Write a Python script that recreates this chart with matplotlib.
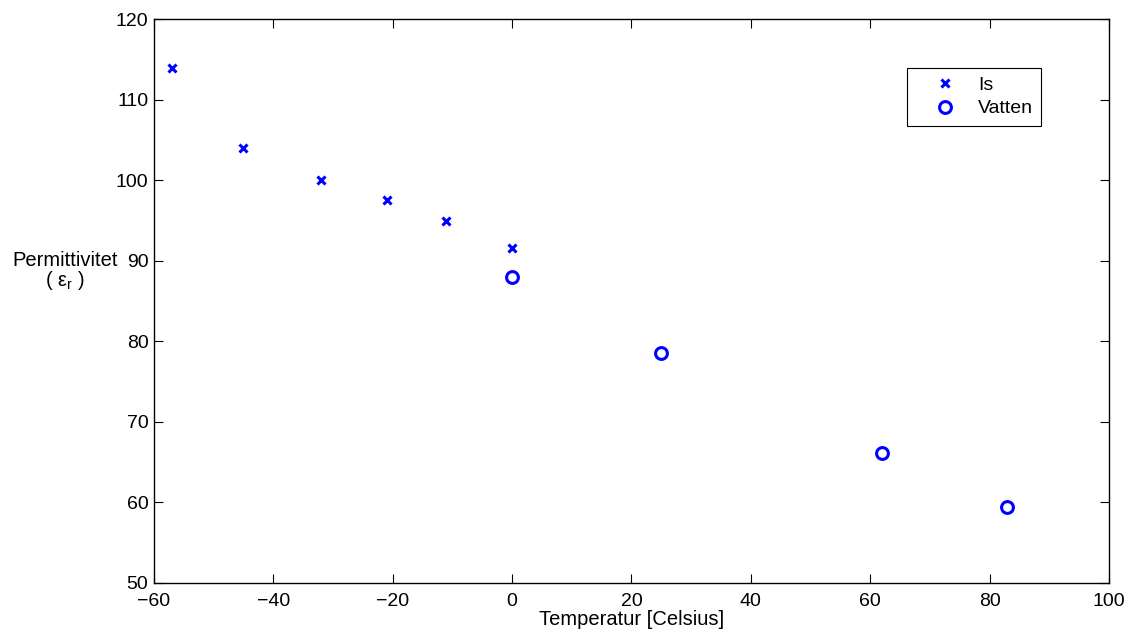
import matplotlib.pyplot as plt

plt.rcParams['font.family'] = ['Liberation Sans', 'DejaVu Sans']
plt.rcParams['mathtext.fontset'] = 'custom'
plt.rcParams['mathtext.rm'] = 'Liberation Sans'
plt.rcParams['mathtext.it'] = 'Liberation Sans'

# Permittivity of ice and water vs temperature
is_temp = [-57, -45, -32, -21, -11, 0]
is_eps = [114, 104, 100, 97.5, 95, 91.6]

vatten_temp = [0, 25, 62, 83]
vatten_eps = [88, 78.6, 66.1, 59.4]

x_ticks = [-60, -40, -20, 0, 20, 40, 60, 80, 100]
y_ticks = [50, 60, 70, 80, 90, 100, 110, 120]

fig = plt.figure(figsize=(11.27, 6.35), dpi=100)
ax = fig.add_axes([0.1366, 0.0819, 0.8474, 0.8877])

ax.plot(is_temp, is_eps, linestyle='none', marker='x', color='#0000ff',
        markersize=6, markeredgewidth=2.2, label='Is')
ax.plot(vatten_temp, vatten_eps, linestyle='none', marker='o', color='#0000ff',
        markerfacecolor='none', markersize=8.5, markeredgewidth=2.2, label='Vatten')

ax.set_xlim(-60, 100)
ax.set_ylim(50, 120)
ax.set_xticks(x_ticks)
ax.set_yticks(y_ticks)
ax.tick_params(direction='in', length=6.5, width=0.8, top=True, right=True,
               labelsize=14, colors='black')
ax.tick_params(axis='x', pad=7.5)
ax.tick_params(axis='y', pad=4)
for s in ax.spines.values():
    s.set_linewidth(1.0)
    s.set_color('black')

ax.set_xlabel('Temperatur [Celsius]', fontsize=14.5, labelpad=0)
ax.set_ylabel('Permittivitet\n( ε$_{\\rm r}$ )', fontsize=14.5, rotation=0,
              ha='center', va='center', linespacing=0.95)
ax.yaxis.set_label_coords(-0.093, 0.552)

leg = ax.legend(loc='upper right', bbox_to_anchor=(0.9288, 0.914),
                borderaxespad=0, fancybox=False, framealpha=1, edgecolor='black',
                fontsize=14, handlelength=3.0, handletextpad=0.2,
                borderpad=0.42, labelspacing=0.32, numpoints=1)
leg.get_frame().set_linewidth(0.8)

fig.savefig('out.png', dpi=100, facecolor='white')
